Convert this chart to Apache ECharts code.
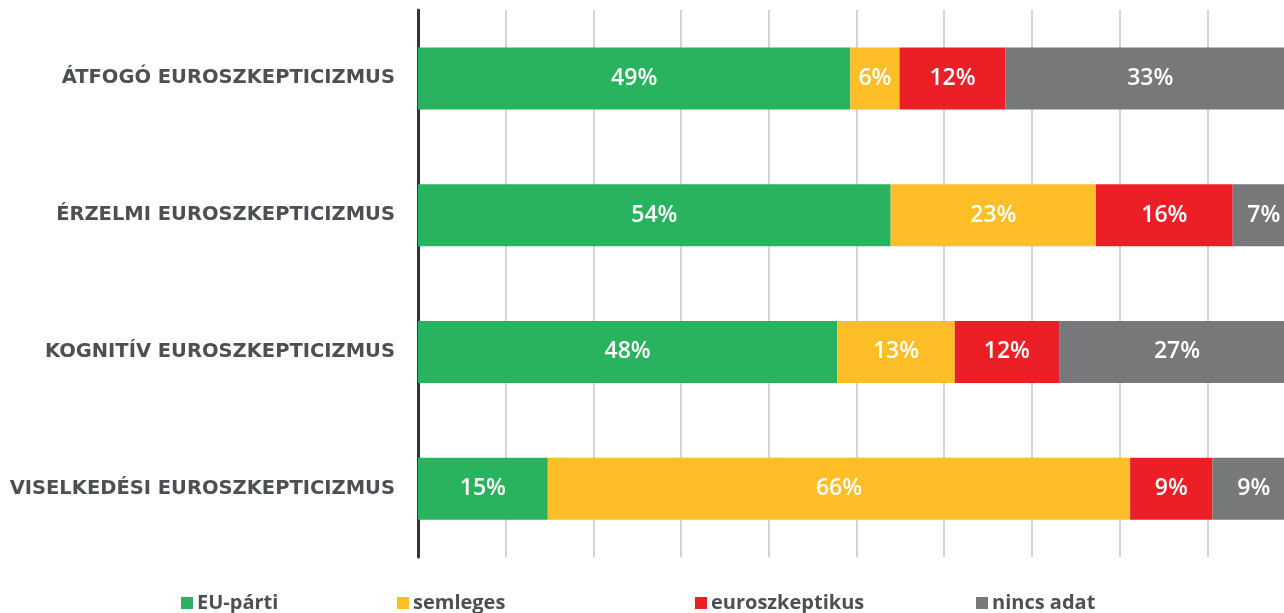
<!DOCTYPE html>
<html>
<head>
<meta charset="utf-8">
<script src="https://cdn.jsdelivr.net/npm/echarts@6/dist/echarts.min.js"></script>
<style>
html,body{margin:0;padding:0;background:#fff;overflow:hidden;}
#chart{width:1300px;height:613px;}
</style>
</head>
<body>
<div id="chart"></div>
<script>
const categories = ['ÁTFOGÓ EUROSZKEPTICIZMUS', 'ÉRZELMI EUROSZKEPTICIZMUS', 'KOGNITÍV EUROSZKEPTICIZMUS', 'VISELKEDÉSI EUROSZKEPTICIZMUS'];
const seriesNames = ['EU-párti', 'semleges', 'euroszkeptikus', 'nincs adat'];
const euParti = [49.3, 53.9, 47.8, 14.8];
const semleges = [5.6, 23.4, 13.4, 66.4];
const euroszkeptikus = [12.1, 15.6, 11.9, 9.4];
const nincsAdat = [33.0, 7.1, 26.9, 9.4];
const xTicks = [0, 10, 20, 30, 40, 50, 60, 70, 80, 90, 100];

const colors = ['#29b35e', '#fdbe28', '#ec1f27', '#76787a'];
const values = [euParti, semleges, euroszkeptikus, nincsAdat];
const TEXT = '#4d5052';

const chart = echarts.init(document.getElementById('chart'), null, {renderer: 'canvas'});

const legendLefts = [181, 397, 695, 976];
const legends = seriesNames.map((n, i) => ({
  data: [n],
  left: legendLefts[i],
  top: 592,
  padding: 0,
  itemWidth: 12,
  itemHeight: 12,
  itemGap: 0,
  icon: 'rect',
  selectedMode: false,
  textStyle: {fontFamily: '"Open Sans", sans-serif', fontSize: 20, fontWeight: 700, color: TEXT, lineHeight: 22, padding: [0,0,0,-1]}
}));

chart.setOption({
  animation: false,
  color: colors,
  grid: {left: 418, top: 10, width: 877, height: 547, containLabel: false},
  legend: legends,
  xAxis: {
    type: 'value', min: xTicks[0], max: xTicks[xTicks.length - 1], interval: 10,
    axisLine: {show: false}, axisTick: {show: false}, axisLabel: {show: false},
    splitLine: {show: true, lineStyle: {color: '#d4d4d4', width: 2}}
  },
  yAxis: {
    type: 'category', data: categories, inverse: true,
    axisLine: {show: true, lineStyle: {color: '#333536', width: 3}},
    axisTick: {show: false},
    axisLabel: {margin: 23, fontFamily: '"DejaVu Sans", sans-serif', fontSize: 19.5, fontWeight: 700, color: TEXT}
  },
  series: seriesNames.map((n, i) => ({
    name: n,
    type: 'bar',
    stack: 'total',
    barWidth: 62,
    data: values[i],
    itemStyle: {color: colors[i]},
    label: {
      show: true, position: 'inside', color: '#ffffff',
      fontFamily: '"Open Sans", sans-serif', fontSize: 23, fontWeight: 600,
      formatter: p => Math.round(p.value) + '%'
    }
  }))
});
</script>
</body>
</html>
